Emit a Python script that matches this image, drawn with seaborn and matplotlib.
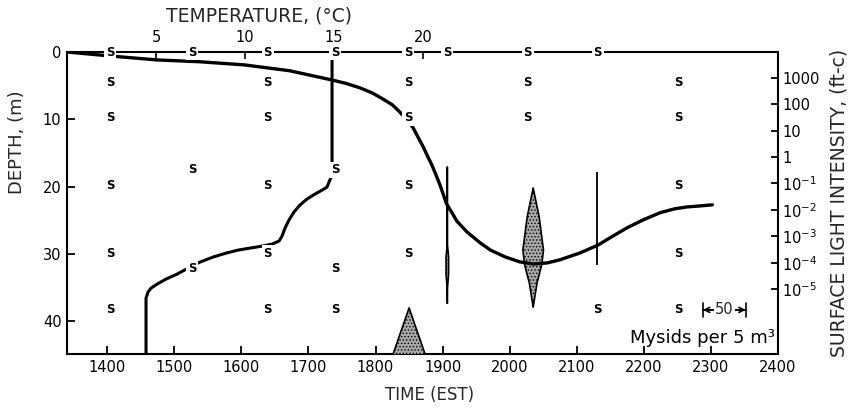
import numpy as np
import pandas as pd
import matplotlib
matplotlib.use("Agg")
import matplotlib.pyplot as plt
import seaborn as sns

# ---------------- data ----------------
# sampling points where no mysids were caught ("S")
s_time = [1404, 1527, 1639, 1740, 1849, 1907, 2027, 2131,
          1404, 1639, 1849, 2027, 2252,
          1404, 1639, 1849, 2027, 2252,
          1527, 1740,
          1404, 1639, 1849, 2252,
          1404, 1639, 1849, 2252,
          1527, 1740,
          1404, 1639, 1740, 2131, 2252]
s_depth = [0, 0, 0, 0, 0, 0, 0, 0,
           4.5, 4.5, 4.5, 4.5, 4.5,
           9.8, 9.8, 9.8, 9.8, 9.8,
           17.5, 17.5,
           19.8, 19.8, 19.8, 19.8,
           29.9, 29.9, 29.9, 29.9,
           32.2, 32.2,
           38.3, 38.3, 38.3, 38.3, 38.3]

# surface light intensity (log10 of ft-c) vs time (EST)
light_time = [1340, 1404, 1474, 1538, 1605, 1672, 1735, 1756, 1777, 1795,
              1811, 1825, 1836, 1847, 1856, 1863, 1871, 1878, 1884, 1890,
              1896, 1906, 1914, 1921, 1936, 1956, 1971, 1993, 2015, 2035,
              2056, 2075, 2105, 2132, 2152, 2175, 2199, 2224, 2246, 2264,
              2284, 2302]
light_log10 = [3.98, 3.83, 3.68, 3.61, 3.49, 3.27, 2.92, 2.79, 2.62, 2.43,
               2.20, 1.98, 1.71, 1.41, 1.11, 0.77, 0.39, 0.01, -0.30, -0.67,
               -1.05, -1.78, -2.11, -2.42, -2.83, -3.25, -3.52, -3.78, -3.97,
               -4.05, -4.01, -3.89, -3.63, -3.33, -3.02, -2.68, -2.38, -2.11,
               -1.96, -1.89, -1.85, -1.81]

# temperature profile
temp_c = [14.89, 14.89, 14.89, 14.72, 14.61, 14.33, 13.93, 13.48, 13.09,
          12.75, 12.47, 12.25, 12.08, 11.91, 11.52, 10.96, 10.28, 9.61, 8.93,
          8.20, 7.47, 6.80, 6.18, 5.56, 5.06, 4.72, 4.55, 4.44, 4.44, 4.44]
temp_depth = [0, 16.34, 18.28, 19.32, 20.06, 20.51, 21.10, 21.84, 22.73,
              23.77, 24.96, 26.15, 27.34, 28.08, 28.53, 28.83, 29.12, 29.42,
              29.87, 30.46, 31.20, 32.10, 32.99, 33.73, 34.47, 35.07, 35.66,
              36.55, 38.34, 45.0]

# mysid kite diagrams (mysids per 5 m^3 at depth)
kite_time = [1850, 1907, 2035, 2130]
kite_1850_depth = [38.0, 45.0]
kite_1850_count = [0, 38]
kite_1907_depth = [17.1, 28.4, 30.5, 33.0, 35.4, 37.3]
kite_1907_count = [0, 0, 3, 3, 0, 0]
kite_2035_depth = [20.2, 24.5, 29.4, 31.6, 34.3, 37.9]
kite_2035_count = [0, 14, 24, 20, 9, 0]
kite_2130_depth = [17.8, 31.6]
kite_2130_count = [0, 0]

depth_ticks = [0, 10, 20, 30, 40]
time_ticks = [1400, 1500, 1600, 1700, 1800, 1900, 2000, 2100, 2200, 2300, 2400]
temp_ticks = [5, 10, 15, 20]
light_ticks = [1e3, 1e2, 1e1, 1, 1e-1, 1e-2, 1e-3, 1e-4, 1e-5]
light_ticklabels = ['1000', '100', '10', '1', r'$10^{-1}$', r'$10^{-2}$',
                    r'$10^{-3}$', r'$10^{-4}$', r'$10^{-5}$']
scale_count = 50
minutes_per_mysid = 64 / 50  # horizontal scale of kites

# ---------------- figure ----------------
sns.set_theme(style="ticks")
plt.rcParams['font.family'] = ['DejaVu Sans']
plt.rcParams['hatch.linewidth'] = 0.6
W, H = 853, 411
fig = plt.figure(figsize=(W / 100, H / 100), dpi=100)
ax = fig.add_axes([67 / W, 1 - 354 / H, (778 - 67) / W, (354 - 52) / H])
ax.set_xlim(1340, 2400)
ax.set_ylim(44.85, 0)
for sp in ax.spines.values():
    sp.set_linewidth(1.5)
    sp.set_color('black')

# kites
kites = [(kite_time[0], kite_1850_depth, kite_1850_count),
         (kite_time[1], kite_1907_depth, kite_1907_count),
         (kite_time[2], kite_2035_depth, kite_2035_count),
         (kite_time[3], kite_2130_depth, kite_2130_count)]
for t, dep, cnt in kites:
    dep = np.array(dep, float)
    half = np.array(cnt, float) * minutes_per_mysid / 2
    ax.plot(np.full(len(dep), t), dep, color='black', lw=1.3, zorder=2,
            solid_capstyle='butt')
    if half.max() > 0:
        ax.fill_betweenx(dep, t - half, t + half, facecolor='#a8a8a8',
                         edgecolor='black', lw=1.2, hatch='.....', zorder=3)

ax.set_xticks(time_ticks)
ax.set_xticklabels([str(v) for v in time_ticks])
ax.set_yticks(depth_ticks)
ax.set_yticklabels([str(v) for v in depth_ticks])
ax.tick_params(axis='both', direction='in', length=6, width=1.3,
               labelsize=10.5, colors='black', pad=4)
ax.tick_params(axis='x', top=False)
ax.set_xlabel('TIME (EST)', fontsize=12)
ax.xaxis.set_label_coords(0.51, -0.105)
ax.set_ylabel('DEPTH, (m)', fontsize=13)
ax.yaxis.set_label_coords(-0.058, 0.70)

# light intensity axis (right)
ax2 = ax.twinx()
light_df = pd.DataFrame({'time': light_time,
                         'ftc': 10 ** np.array(light_log10)})
sns.lineplot(data=light_df, x='time', y='ftc', ax=ax2, color='black',
             lw=2.4, sort=False, estimator=None, solid_joinstyle='round',
             solid_capstyle='round')
ax2.set_yscale('log')
ax2.set_ylim(10 ** -7.46, 10 ** 3.98)
ax2.set_yticks(light_ticks)
ax2.set_yticklabels(light_ticklabels)
ax2.minorticks_off()
ax2.tick_params(axis='y', direction='in', length=5, width=1.3,
                labelsize=10.5, colors='black', pad=3)
ax2.set_ylabel('SURFACE LIGHT INTENSITY, (ft-c)', fontsize=13.5)
ax2.yaxis.set_label_coords(1.073, 0.5)
for sp in ax2.spines.values():
    sp.set_visible(False)

# temperature axis (top)
ax3 = ax.twiny()
temp_df = pd.DataFrame({'temp': temp_c, 'depth': temp_depth})
sns.lineplot(data=temp_df, x='temp', y='depth', ax=ax3, color='black',
             lw=2.2, sort=False, estimator=None, orient='y',
             solid_joinstyle='round')
ax3.set_xlim(0, (778 - 67) / 17.8)
ax3.set_ylim(44.85, 0)
ax3.set_xticks(temp_ticks)
ax3.set_xticklabels([str(v) for v in temp_ticks])
ax3.tick_params(axis='x', direction='in', length=5, width=1.2,
                labelsize=10.5, colors='black', pad=5,
                top=True, labeltop=True, bottom=False, labelbottom=False)
ax3.set_xlabel('TEMPERATURE, (°C)', fontsize=13.5)
ax3.xaxis.set_label_position('top')
ax3.xaxis.set_label_coords(0.27, 1.10)
for sp in ax3.spines.values():
    sp.set_visible(False)
ax3.set_ylabel('')

# S markers (drawn on top so they break the lines)
for t, d in zip(s_time, s_depth):
    ax3.text(t, d, 'S', transform=ax.transData, ha='center', va='center',
             fontsize=8.5, fontweight='bold', color='black', zorder=5,
             clip_on=False,
             bbox=dict(boxstyle='square,pad=0.15', fc='white', ec='none'))

# scale bar and legend text
sb_y = 38.3
sb_x0 = 2288
sb_x1 = sb_x0 + scale_count * minutes_per_mysid
ax3.annotate('', xy=(sb_x0, sb_y), xytext=(sb_x1, sb_y),
             xycoords=ax.transData, textcoords=ax.transData,
             arrowprops=dict(arrowstyle='|-|,widthA=0.4,widthB=0.4',
                             color='black', lw=1.2, shrinkA=0, shrinkB=0))
ax3.annotate('', xy=(sb_x0, sb_y), xytext=(sb_x1, sb_y),
             xycoords=ax.transData, textcoords=ax.transData,
             arrowprops=dict(arrowstyle='<->,head_length=0.3,head_width=0.15',
                             color='black', lw=1.2, shrinkA=0, shrinkB=0))
ax3.text((sb_x0 + sb_x1) / 2, sb_y, str(scale_count), transform=ax.transData,
         ha='center', va='center', fontsize=10.5, zorder=6,
         bbox=dict(boxstyle='square,pad=0.1', fc='white', ec='none'))
ax3.text(2396, 42.5, 'Mysids per 5 m³', transform=ax.transData,
         ha='right', va='center', fontsize=13, color='black')

fig.savefig('out.png', dpi=100)
